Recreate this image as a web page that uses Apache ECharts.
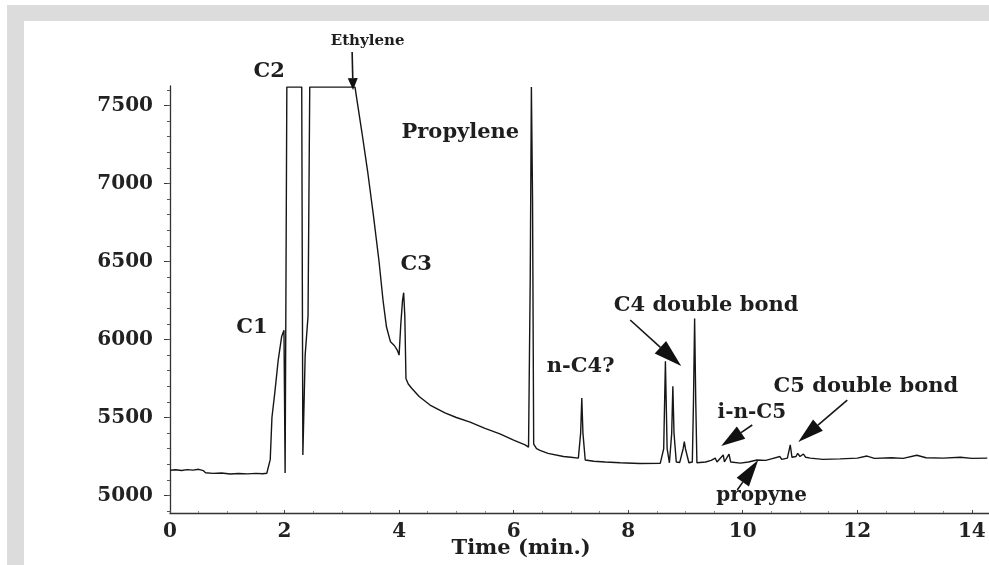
<!DOCTYPE html>
<html>
<head>
<meta charset="utf-8">
<script src="https://cdn.jsdelivr.net/npm/echarts@6/dist/echarts.min.js"></script>
<style>
  html, body { margin: 0; padding: 0; background: #ffffff; }
  #chart { width: 989px; height: 565px; }
</style>
</head>
<body>
<div id="chart"></div>
<script>
// Gas chromatogram trace: retention time (min) and detector signal
const timeMin = [
  0.00, 0.10, 0.20, 0.30, 0.40, 0.50, 0.58, 0.62, 0.75, 0.90, 1.05, 1.20, 1.35, 1.50, 1.62, 1.69,
  1.75, 1.78, 1.83, 1.89, 1.95, 1.99, 2.01, 2.03, 2.04, 2.30, 2.32, 2.36, 2.41, 2.44, 3.23,
  3.35, 3.45, 3.55, 3.65, 3.72, 3.78, 3.85, 3.92, 3.97, 4.00, 4.03, 4.06, 4.08, 4.10, 4.12,
  4.16, 4.22, 4.35, 4.54, 4.80, 5.00, 5.24, 5.50, 5.76, 6.00, 6.20, 6.26, 6.29, 6.31, 6.33,
  6.35, 6.40, 6.46, 6.60, 6.87, 7.00, 7.13, 7.17, 7.19, 7.21, 7.25, 7.40, 7.60, 7.86, 8.20,
  8.56, 8.62, 8.65, 8.68, 8.72, 8.76, 8.78, 8.80, 8.84, 8.90, 8.96, 8.98, 9.00, 9.06, 9.12,
  9.14, 9.16, 9.18, 9.20, 9.35, 9.45, 9.52, 9.55, 9.66, 9.68, 9.76, 9.79, 9.96, 10.10, 10.25,
  10.40, 10.50, 10.65, 10.68, 10.78, 10.83, 10.86, 10.93, 10.96, 11.00, 11.06, 11.10, 11.18,
  11.40, 11.70, 12.00, 12.17, 12.30, 12.60, 12.80, 13.04, 13.20, 13.50, 13.80, 14.00, 14.27
];
const signal = [
  5162, 5165, 5160, 5166, 5163, 5168, 5160, 5146, 5142, 5144, 5138, 5141, 5139, 5142, 5140, 5143,
  5230, 5500, 5660, 5870, 6020, 6060, 5145, 5150, 7618, 7618, 5260, 5900, 6150, 7618, 7618,
  7330, 7080, 6800, 6500, 6250, 6080, 5985, 5960, 5930, 5900, 6100, 6250, 6300, 6150, 5750,
  5715, 5688, 5635, 5580, 5530, 5500, 5470, 5430, 5395, 5355, 5325, 5310, 6400, 7618, 6900,
  5330, 5300, 5290, 5270, 5250, 5245, 5240, 5400, 5625, 5400, 5228, 5220, 5215, 5210, 5205,
  5206, 5300, 5860, 5300, 5210, 5400, 5700, 5400, 5215, 5212, 5300, 5345, 5300, 5210, 5215,
  5600, 6135, 5600, 5210, 5215, 5225, 5240, 5215, 5260, 5215, 5265, 5215, 5208, 5215, 5228,
  5225, 5235, 5250, 5232, 5240, 5325, 5245, 5250, 5270, 5250, 5266, 5245, 5240,
  5232, 5235, 5240, 5253, 5238, 5242, 5238, 5258, 5242, 5240, 5245, 5238, 5240
];

// Axis ticks
const yMajorTicks = [5000, 5500, 6000, 6500, 7000, 7500];
const yMinorTicks = [4900, 5000, 5100, 5200, 5300, 5400, 5500, 5600, 5700, 5800, 5900, 6000,
  6100, 6200, 6300, 6400, 6500, 6600, 6700, 6800, 6900, 7000, 7100, 7200, 7300, 7400, 7500, 7600];
const xMajorTicks = [0, 2, 4, 6, 8, 10, 12, 14];
const xMinorTicks = [0.5, 1, 1.5, 2.5, 3, 3.5, 4.5, 5, 5.5, 6.5, 7, 7.5, 8.5, 9, 9.5,
  10.5, 11, 11.5, 12.5, 13, 13.5];

// Peak annotations (text centre in time / signal units)
const peakNames = ['Ethylene', 'C2', 'C1', 'Propylene', 'C3', 'n-C4?', 'C4 double bond',
  'i-n-C5', 'C5 double bond', 'propyne'];
const peakNameX = [3.45, 1.73, 1.43, 5.07, 4.30, 7.17, 9.36, 10.16, 12.15, 10.33];
const peakNameY = [7913, 7715, 6074, 7324, 6478, 5824, 6218, 5529, 5696, 4997];
const peakNameSize = [15, 21, 21, 21, 21, 21, 21, 20, 21, 20];

// Pointer arrows: tail and tip in time / signal units, head length and width in px
const arrowTail = [[3.18, 7843], [8.035, 6125], [10.166, 5452], [11.825, 5612], [9.904, 5035]];
const arrowTip  = [[3.196, 7599], [8.926, 5830], [9.624, 5317], [10.969, 5343], [10.271, 5228]];
const arrowHead = [[12, 10], [28, 17], [24, 15], [26, 15], [27, 15]];

const xTitle = 'Time (min.)';
const xTitlePos = [6.13, 4657];

const FONT = 'DejaVu Serif';
const INK = '#161616';

const chart = echarts.init(document.getElementById('chart'), null, { renderer: 'canvas' });

const yRange = { min: 4888, max: 7625 };
const xRange = { min: 0, max: 14.3 };

chart.setOption({
  animation: false,
  backgroundColor: '#ffffff',
  grid: { left: 170, right: 0, top: 86, bottom: 52, containLabel: false },
  xAxis: [
    {
      type: 'value', min: xRange.min, max: xRange.max, interval: 2,
      axisLine: { show: true, lineStyle: { color: '#333', width: 1.3 } },
      axisTick: { show: true, inside: true, length: 3, customValues: xMajorTicks,
        lineStyle: { color: '#444' } },
      axisLabel: { customValues: xMajorTicks, margin: 9, fontFamily: FONT, fontWeight: 'bold',
        fontSize: 20, color: '#222', formatter: v => String(v) },
      splitLine: { show: false }
    },
    {
      type: 'value', min: xRange.min, max: xRange.max, position: 'bottom',
      axisLine: { show: false },
      axisTick: { show: true, inside: true, length: 2, customValues: xMinorTicks,
        lineStyle: { color: '#888' } },
      axisLabel: { show: false },
      splitLine: { show: false }
    }
  ],
  yAxis: [
    {
      type: 'value', min: yRange.min, max: yRange.max,
      axisLine: { show: true, lineStyle: { color: '#333', width: 1.3 } },
      axisTick: { show: true, length: 6, customValues: yMajorTicks, lineStyle: { color: '#333' } },
      axisLabel: { customValues: yMajorTicks, margin: 17, fontFamily: FONT, fontWeight: 'bold',
        fontSize: 20, color: '#222', formatter: v => String(v) },
      splitLine: { show: false }
    },
    {
      type: 'value', min: yRange.min, max: yRange.max, position: 'left',
      axisLine: { show: false },
      axisTick: { show: true, length: 3, customValues: yMinorTicks, lineStyle: { color: '#555' } },
      axisLabel: { show: false },
      splitLine: { show: false }
    }
  ],
  series: [{
    type: 'line',
    xAxisIndex: 0, yAxisIndex: 0,
    data: timeMin.map((t, i) => [t, signal[i]]),
    showSymbol: false,
    symbol: 'none',
    lineStyle: { color: INK, width: 1.4 },
    clip: true,
    z: 3
  }]
});

// Annotation layer placed through the series' coordinate system
const toPx = p => chart.convertToPixel({ seriesIndex: 0 }, p);
const graphics = [
  // panel frame
  { type: 'rect', z: -20, silent: true, shape: { x: 7, y: 5, width: 990, height: 570 },
    style: { fill: '#dcdcdc' } },
  { type: 'rect', z: -19, silent: true, shape: { x: 24, y: 21, width: 970, height: 550 },
    style: { fill: '#ffffff' } }
];

peakNames.forEach((name, i) => {
  const p = toPx([peakNameX[i], peakNameY[i]]);
  graphics.push({
    type: 'text', z: 10, x: p[0], y: p[1],
    style: { text: name, fill: '#1e1e1e', font: 'bold ' + peakNameSize[i] + 'px "' + FONT + '"',
      align: 'center', verticalAlign: 'middle' }
  });
});

arrowTail.forEach((tail, i) => {
  const a = toPx(tail), b = toPx(arrowTip[i]);
  const dx = b[0] - a[0], dy = b[1] - a[1];
  const len = Math.hypot(dx, dy);
  const ux = dx / len, uy = dy / len;
  const hl = arrowHead[i][0], hw = arrowHead[i][1] / 2;
  const bx = b[0] - ux * hl, by = b[1] - uy * hl;
  graphics.push({
    type: 'line', z: 10, shape: { x1: a[0], y1: a[1], x2: bx, y2: by },
    style: { stroke: INK, lineWidth: 1.6 }
  });
  graphics.push({
    type: 'polygon', z: 10,
    shape: { points: [[b[0], b[1]], [bx - uy * hw, by + ux * hw], [bx + uy * hw, by - ux * hw]] },
    style: { fill: '#111' }
  });
});

const tp = toPx(xTitlePos);
graphics.push({
  type: 'text', z: 10, x: tp[0], y: tp[1],
  style: { text: xTitle, fill: '#1e1e1e', font: 'bold 21px "' + FONT + '"',
    align: 'center', verticalAlign: 'middle' }
});

chart.setOption({ graphic: graphics });
</script>
</body>
</html>
